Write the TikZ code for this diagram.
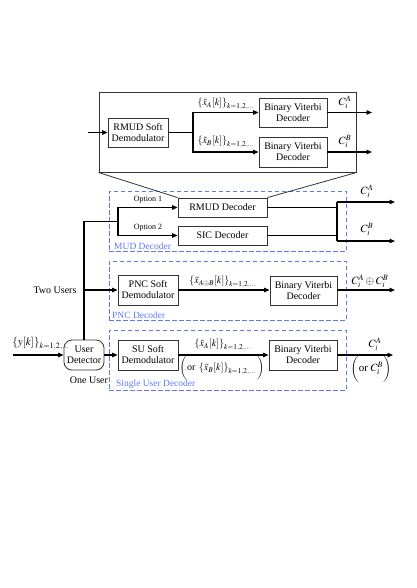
\documentclass[tikz,border=0pt]{standalone}
\usepackage{mathptmx}
\usepackage{fontspec}
\setmainfont{Liberation Serif}
\usetikzlibrary{arrows.meta,calc}
\definecolor{dblue}{RGB}{95,120,250}
\begin{document}
\begin{tikzpicture}[x=1pt,y=-1pt,
  font=\fontsize{10}{11}\selectfont,
  box/.style={draw=black!80, line width=0.8pt, align=center, inner sep=0pt},
  conn/.style={line width=1.1pt},
  arr/.style={conn,-{Triangle[length=5.5pt,width=4.5pt]}},
  dbox/.style={draw=dblue, line width=0.8pt, dash pattern=on 4.5pt off 2.5pt, inner sep=0pt},
  dlabel/.style={text=dblue, anchor=west, inner sep=0pt, font=\fontsize{9.5}{11}\selectfont},
  lbl/.style={inner sep=0pt},
  clbl/.style={inner sep=0pt, font=\fontsize{11}{12}\selectfont},
  opt/.style={inner sep=0pt, font=\fontsize{8}{9}\selectfont}]
\useasboundingbox (0,0) rectangle (416,588);

% ---------- expanded RMUD decoder (top) ----------
\node[box, line width=1pt, minimum width=257, minimum height=79] (big) at (227.5,132.5) {};
\node[box, minimum width=60, minimum height=29] (rsd) at (138,132.5) {RMUD Soft\\Demodulator};
\node[box, minimum width=68, minimum height=29] (bva) at (293,112.5) {Binary Viterbi\\Decoder};
\node[box, minimum width=68, minimum height=30] (bvb) at (293,152) {Binary Viterbi\\Decoder};
\coordinate (bin) at (88,132.5);
\coordinate (br) at (193,132.5);
\coordinate (oa) at (372,112.5);
\coordinate (ob) at (372,152);
\draw[arr] (bin) -- (rsd.west);
\draw[conn] (rsd.east) -- (br);
\draw[arr] (br) |- (bva.west);
\draw[arr] (br) |- (bvb.west);
\draw[arr] (bva.east) -- (oa);
\draw[arr] (bvb.east) -- (ob);
\node[lbl] (lxa) at (226,104) {$\left\{\tilde{x}_A[k]\right\}_{k=1,2,\ldots}$};
\node[lbl] (lxb) at (226,142) {$\left\{\tilde{x}_B[k]\right\}_{k=1,2,\ldots}$};
\node[clbl] (lca) at (345,102) {$C_i^A$};
\node[clbl] (lcb) at (345,141) {$C_i^B$};

% ---------- MUD decoder ----------
\node[dbox, minimum width=237, minimum height=60] (mud) at (227.5,221) {};
\node[dlabel] (mudl) at (114,246) {MUD Decoder};
\node[box, minimum width=89, minimum height=19] (rmud) at (222.5,207.5) {RMUD Decoder};
\node[box, minimum width=89, minimum height=19] (sic) at (222.5,235.5) {SIC Decoder};
\draw[line width=0.8pt, black!80] (big.south west) -- (rmud.north west);
\draw[line width=0.8pt, black!80] (big.south east) -- (rmud.north east);
\coordinate (mb) at (118,221.5);
\draw[arr] (mb) |- (rmud.west);
\draw[arr] (mb) |- (sic.west);
\node[opt] (op1) at (148,200) {Option 1};
\node[opt] (op2) at (148,227.5) {Option 2};
\coordinate (bus1) at (337,202);
\coordinate (bus2) at (337,241);
\coordinate (ma) at (395,202);
\coordinate (mbo) at (395,241);
\draw[conn] (rmud.east) -- (rmud.east -| bus1);
\draw[conn] (sic.east) -- (sic.east -| bus1);
\draw[conn] (bus1) -- (bus2);
\draw[arr] (bus1) -- (ma);
\draw[arr] (bus2) -- (mbo);
\node[clbl] (mca) at (367,191) {$C_i^A$};
\node[clbl] (mcb) at (367,229) {$C_i^B$};

% ---------- PNC decoder ----------
\node[dbox, minimum width=237, minimum height=59] (pnc) at (227.5,290.5) {};
\node[dlabel] (pncl) at (112,315) {PNC Decoder};
\node[box, minimum width=60, minimum height=30] (psd) at (148,290) {PNC Soft\\Demodulator};
\node[box, minimum width=67, minimum height=29] (pbv) at (303.5,290.5) {Binary Viterbi\\Decoder};
\draw[arr] (psd.east) -- (psd.east -| pbv.west);
\coordinate (po) at (395,290);
\draw[arr] (pbv.east |- po) -- (po);
\node[lbl] (pxl) at (223,282) {$\left\{\tilde{x}_{A\oplus B}[k]\right\}_{k=1,2,\ldots}$};
\node[clbl] (pcl) at (370,281) {$C_i^A\oplus C_i^B$};

% ---------- single user decoder ----------
\node[dbox, minimum width=237, minimum height=60] (sud) at (227.5,360) {};
\node[dlabel] (sudl) at (116,384) {Single User Decoder};
\node[box, minimum width=60, minimum height=30] (ssd) at (148,355) {SU Soft\\Demodulator};
\node[box, minimum width=68, minimum height=30] (sbv) at (303,355) {Binary Viterbi\\Decoder};
\node[box, minimum width=40, minimum height=30, rounded corners=8pt] (ud) at (84,355) {User\\Detector};
\coordinate (yin) at (13,355);
\coordinate (so) at (393,355);
\draw[arr] (yin) -- (ud.west);
\draw[arr] (ud.east) -- (ssd.west);
\draw[arr] (ssd.east) -- (sbv.west);
\draw[arr] (sbv.east) -- (so);
\node[clbl] (yl) at (41,344) {$\left\{y[k]\right\}_{k=1,2,\ldots}$};
\node[lbl] (sxa) at (223,345) {$\left\{\tilde{x}_A[k]\right\}_{k=1,2,\ldots}$};
\node[lbl] (sxb) at (222,368) {$\bigg(\mbox{or }\left\{\tilde{x}_B[k]\right\}_{k=1,2,\ldots}\bigg)$};
\node[clbl] (sca) at (375,344) {$C_i^A$};
\node[clbl] (scb) at (371,369) {$\bigg(\mbox{or }C_i^B\bigg)$};
\node[lbl] (onu) at (89,380) {One User};

% ---------- two users routing ----------
\coordinate (tu) at (84,221.5);
\coordinate (tp) at (84,290);
\draw[conn] (ud.north) -- (tu) -- (mb);
\draw[arr] (tp) -- (psd.west);
\node[lbl] (twu) at (55,290) {Two Users};
\end{tikzpicture}
\end{document}
